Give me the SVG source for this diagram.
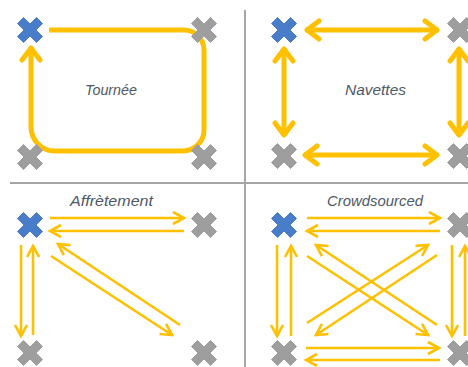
<svg xmlns="http://www.w3.org/2000/svg" width="468" height="367" viewBox="0 0 468 367">
<style>
.div{stroke:#A6A6A6;stroke-width:2;fill:none}
.thick{stroke:#FFC000;stroke-width:5;fill:none;stroke-linecap:butt}
.thin{stroke:#FFC000;stroke-width:2.6;fill:none}
.lbl{font-family:"Liberation Sans",Arial,sans-serif;font-style:italic;font-size:15px;fill:#4E5866;text-anchor:middle}
.blue{fill:#4A7DC9;stroke:#4A7DC9;stroke-width:1;stroke-linejoin:round}
.gray{fill:#9E9E9E;stroke:#9E9E9E;stroke-width:1;stroke-linejoin:round}
</style>
<defs>
<path id="xs" d="M-12.5,-6.5 L-6.5,-12.5 L0,-6 L6.5,-12.5 L12.5,-6.5 L6,0 L12.5,6.5 L6.5,12.5 L0,6 L-6.5,12.5 L-12.5,6.5 L-6,0 Z"/>
<marker id="ah" markerUnits="userSpaceOnUse" viewBox="-16 -12 20 24" markerWidth="20" markerHeight="24" refX="0" refY="0" orient="auto-start-reverse" overflow="visible">
<path d="M-13,-9 L-1,0 L-13,9" fill="none" stroke="#FFC000" stroke-width="5" stroke-linecap="round" stroke-linejoin="round"/>
</marker>
<marker id="at" markerUnits="userSpaceOnUse" viewBox="-14 -8 16 16" markerWidth="16" markerHeight="16" refX="0" refY="0" orient="auto-start-reverse" overflow="visible">
<path d="M-11,-6 L0,0 L-11,6" fill="none" stroke="#FFC000" stroke-width="2.6" stroke-linejoin="miter"/>
</marker>
</defs>

<g id="dividers">
<line class="div" x1="245" y1="10" x2="245" y2="367"/>
<line class="div" x1="10" y1="183" x2="468" y2="183"/>
</g>

<g id="connectors">
<path class="thick" d="M49,30 H184 A20,20 0 0 1 204,50 V130 A21,21 0 0 1 183,151 H55 A24,24 0 0 1 31,127 V47" marker-end="url(#ah)"/>
<line class="thick" x1="306" y1="30" x2="438" y2="30" marker-start="url(#ah)" marker-end="url(#ah)"/>
<line class="thick" x1="304" y1="155" x2="438" y2="155" marker-start="url(#ah)" marker-end="url(#ah)"/>
<line class="thick" x1="284" y1="48" x2="284" y2="136" marker-start="url(#ah)" marker-end="url(#ah)"/>
<line class="thick" x1="459" y1="48" x2="459" y2="136" marker-start="url(#ah)" marker-end="url(#ah)"/>
<line class="thin" x1="50" y1="218" x2="184" y2="218" marker-end="url(#at)"/>
<line class="thin" x1="184" y1="231" x2="50" y2="231" marker-end="url(#at)"/>
<line class="thin" x1="21" y1="245" x2="21" y2="336" marker-end="url(#at)"/>
<line class="thin" x1="33" y1="335" x2="33" y2="246" marker-end="url(#at)"/>
<line class="thin" x1="51" y1="256" x2="172" y2="335" marker-end="url(#at)"/>
<line class="thin" x1="180" y1="325" x2="58" y2="244" marker-end="url(#at)"/>
<line class="thin" x1="307" y1="218" x2="440" y2="218" marker-end="url(#at)"/>
<line class="thin" x1="440" y1="231" x2="307" y2="231" marker-end="url(#at)"/>
<line class="thin" x1="306" y1="348" x2="439" y2="348" marker-end="url(#at)"/>
<line class="thin" x1="440" y1="360" x2="306" y2="360" marker-end="url(#at)"/>
<line class="thin" x1="277" y1="245" x2="277" y2="336" marker-end="url(#at)"/>
<line class="thin" x1="291" y1="336" x2="291" y2="246" marker-end="url(#at)"/>
<line class="thin" x1="452" y1="245" x2="452" y2="336" marker-end="url(#at)"/>
<line class="thin" x1="465" y1="336" x2="465" y2="246" marker-end="url(#at)"/>
<line class="thin" x1="307" y1="256" x2="428" y2="335" marker-end="url(#at)"/>
<line class="thin" x1="437" y1="325" x2="316" y2="245" marker-end="url(#at)"/>
<line class="thin" x1="307" y1="323" x2="428" y2="245" marker-end="url(#at)"/>
<line class="thin" x1="437" y1="255" x2="316" y2="335" marker-end="url(#at)"/>
</g>

<g id="tournee">
<use href="#xs" class="blue" x="30" y="30"/>
<use href="#xs" class="gray" x="204" y="30"/>
<use href="#xs" class="gray" x="30" y="157"/>
<use href="#xs" class="gray" x="204" y="157"/>
<text class="lbl" x="111" y="95" textLength="52" lengthAdjust="spacingAndGlyphs">Tournée</text>
</g>
<g id="navettes">
<use href="#xs" class="blue" x="284" y="30"/>
<use href="#xs" class="gray" x="460" y="30"/>
<use href="#xs" class="gray" x="284" y="156"/>
<use href="#xs" class="gray" x="460" y="156"/>
<text class="lbl" x="375.5" y="95" textLength="61" lengthAdjust="spacingAndGlyphs">Navettes</text>
</g>
<g id="affretement">
<use href="#xs" class="blue" x="30" y="225"/>
<use href="#xs" class="gray" x="204" y="225"/>
<use href="#xs" class="gray" x="30" y="353"/>
<use href="#xs" class="gray" x="204" y="353"/>
<text class="lbl" x="111.5" y="206" textLength="83" lengthAdjust="spacingAndGlyphs">Affrètement</text>
</g>
<g id="crowdsourced">
<use href="#xs" class="blue" x="284" y="225"/>
<use href="#xs" class="gray" x="460" y="225"/>
<use href="#xs" class="gray" x="284" y="353"/>
<use href="#xs" class="gray" x="460" y="353"/>
<text class="lbl" x="375" y="206" textLength="96" lengthAdjust="spacingAndGlyphs">Crowdsourced</text>
</g>
</svg>
